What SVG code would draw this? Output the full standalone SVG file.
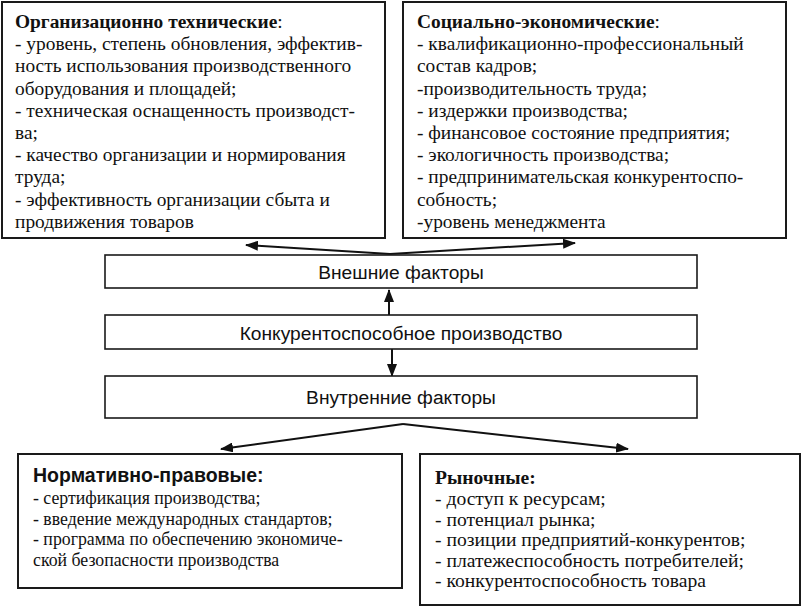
<svg xmlns="http://www.w3.org/2000/svg" width="804" height="607" viewBox="0 0 804 607">
<style>
.box{fill:#fff;stroke:#1a1a1a;stroke-width:2}
.mbox{fill:#fff;stroke:#1a1a1a;stroke-width:1.6}
.serif{font-family:"Liberation Serif","Times New Roman",serif;font-size:19.4px;fill:#111}
.sm{font-size:17.8px}
.lg{font-size:19.6px}
.sans{font-family:"Liberation Sans",Arial,sans-serif;font-size:19.2px;fill:#111}
.b{font-weight:bold}
.conn{stroke:#111;stroke-width:2;fill:none;marker-end:url(#ah)}
</style>
<defs>
<marker id="ah" markerUnits="userSpaceOnUse" markerWidth="13" markerHeight="10" refX="12" refY="5" orient="auto">
<path d="M0,0 L13,5 L0,10 z" fill="#111"/>
</marker>
</defs>
<rect width="804" height="607" fill="#fff"/>
<g id="connectors">
<line class="conn" x1="390" y1="254" x2="246" y2="245"/>
<line class="conn" x1="390" y1="254" x2="575" y2="243"/>
<line class="conn" x1="389" y1="315" x2="389" y2="290"/>
<line class="conn" x1="392" y1="349" x2="392" y2="376"/>
<line class="conn" x1="403" y1="424" x2="221" y2="449"/>
<line class="conn" x1="403" y1="424" x2="628" y2="449"/>
</g>
<g id="org-tech">
<rect class="box" x="2" y="2" width="383" height="236"/>
<text class="serif" x="15" y="28"><tspan class="b">Организационно технические</tspan>:</text>
<text class="serif" x="15" y="50.2">- уровень, степень обновления, эффектив-</text>
<text class="serif" x="15" y="72.4">ность использования производственного</text>
<text class="serif" x="15" y="94.6">оборудования и площадей;</text>
<text class="serif" x="15" y="116.8">- техническая оснащенность производст-</text>
<text class="serif" x="15" y="139">ва;</text>
<text class="serif" x="15" y="161.2">- качество организации и нормирования</text>
<text class="serif" x="15" y="183.4">труда;</text>
<text class="serif" x="15" y="205.6">- эффективность организации сбыта и</text>
<text class="serif" x="15" y="227.8">продвижения товаров</text>
</g>
<g id="soc-econ">
<rect class="box" x="403" y="2" width="383" height="236"/>
<text class="serif" x="417" y="28"><tspan class="b">Социально-экономические</tspan>:</text>
<text class="serif" x="417" y="50.2">- квалификационно-профессиональный</text>
<text class="serif" x="417" y="72.4">состав кадров;</text>
<text class="serif" x="417" y="94.6">-производительность труда;</text>
<text class="serif" x="417" y="116.8">- издержки производства;</text>
<text class="serif" x="417" y="139">- финансовое состояние предприятия;</text>
<text class="serif" x="417" y="161.2">- экологичность производства;</text>
<text class="serif" x="417" y="183.4">- предпринимательская конкурентоспо-</text>
<text class="serif" x="417" y="205.6">собность;</text>
<text class="serif" x="417" y="227.8">-уровень менеджмента</text>
</g>
<g id="external">
<rect class="mbox" x="105" y="255" width="592" height="33"/>
<text class="sans" x="401" y="279" text-anchor="middle">Внешние факторы</text>
</g>
<g id="competitive">
<rect class="mbox" x="105" y="315" width="592" height="34"/>
<text class="sans" x="401" y="340" text-anchor="middle">Конкурентоспособное производство</text>
</g>
<g id="internal">
<rect class="mbox" x="105" y="376" width="592" height="42"/>
<text class="sans" x="401" y="404" text-anchor="middle">Внутренние факторы</text>
</g>
<g id="legal">
<rect class="box" x="18" y="454" width="384" height="134"/>
<text class="sans b" x="33" y="482" style="font-size:19.5px">Нормативно-правовые:</text>
<text class="serif sm" x="33" y="504">- сертификация производства;</text>
<text class="serif sm" x="33" y="524.5">- введение международных стандартов;</text>
<text class="serif sm" x="33" y="545">- программа по обеспечению экономиче-</text>
<text class="serif sm" x="33" y="566">ской безопасности производства</text>
</g>
<g id="market">
<rect class="box" x="420" y="454" width="380" height="151"/>
<text class="serif b lg" x="435" y="484">Рыночные:</text>
<text class="serif lg" x="435" y="505">- доступ к ресурсам;</text>
<text class="serif lg" x="435" y="525.5">- потенциал рынка;</text>
<text class="serif lg" x="435" y="546">- позиции предприятий-конкурентов;</text>
<text class="serif lg" x="435" y="566.5">- платежеспособность потребителей;</text>
<text class="serif lg" x="435" y="587">- конкурентоспособность товара</text>
</g>
</svg>
